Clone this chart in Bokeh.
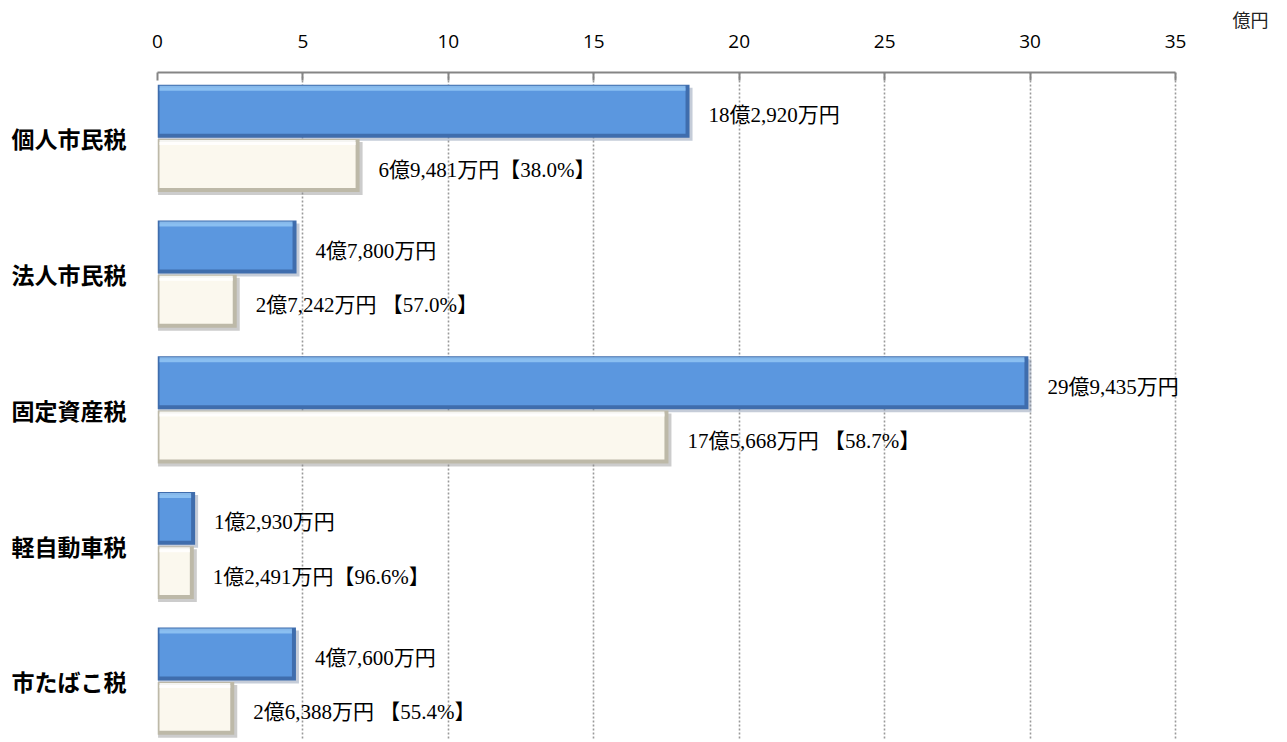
from bokeh.plotting import figure
from bokeh.models import Range1d, LinearAxis, FixedTicker, ColumnDataSource
from bokeh.core.properties import value
from bokeh.embed import file_html
from bokeh.resources import INLINE

categories = ["個人市民税", "法人市民税", "固定資産税", "軽自動車税", "市たばこ税"]
budget = [18.292, 4.78, 29.9435, 1.293, 4.76]          # 億円
actual = [6.9481, 2.7242, 17.5668, 1.2491, 2.6388]      # 億円
budget_labels = ["18億2,920万円", "4億7,800万円", "29億9,435万円", "1億2,930万円", "4億7,600万円"]
actual_labels = ["6億9,481万円【38.0%】", "2億7,242万円 【57.0%】", "17億5,668万円 【58.7%】",
                 "1億2,491万円【96.6%】", "2億6,388万円 【55.4%】"]
x_ticks = [0, 5, 10, 15, 20, 25, 30, 35]
unit_label = "億円"

LABEL_FONT = "Liberation Serif, Noto Sans CJK JP"
CJK = "Noto Sans CJK JP"

n = len(categories)
idx = list(range(n))
H = 0.39
px_y = 1 / 135.7
px_x = 35 / 1018
x_end = 35 + 100 * px_x   # room to the right of the 35 gridline for labels

p = figure(width=1280, height=740, output_backend="svg", toolbar_location=None,
           x_range=Range1d(0, x_end), y_range=Range1d(4.437, -0.486),
           x_axis_location=None, y_axis_location=None,
           min_border_left=157, min_border_right=5, min_border_top=72, min_border_bottom=0)
p.outline_line_color = None
p.background_fill_color = "white"
p.border_fill_color = "white"

# unit label (as title, right aligned)
p.title.text = unit_label
p.title.align = "right"
p.title.offset = 7
p.title.standoff = 0
p.title.text_font = CJK
p.title.text_font_size = "18px"
p.title.text_font_style = "normal"
p.title.text_color = "#222222"

# grid
p.xgrid.ticker = FixedTicker(ticks=x_ticks)
p.xgrid.grid_line_color = "#9a9a9a"
p.xgrid.grid_line_dash = "2 2"
p.xgrid.grid_line_width = 1.6
p.ygrid.grid_line_color = None

# top axis
ax = LinearAxis(ticker=FixedTicker(ticks=x_ticks), bounds=(0, 35))
ax.axis_line_color = "#858585"
ax.axis_line_width = 2
ax.major_tick_line_color = "#858585"
ax.major_tick_line_width = 2
ax.major_tick_in = 8
ax.major_tick_out = 0
ax.minor_tick_line_color = None
ax.major_label_standoff = 25
ax.major_label_text_font = "Open Sans"
ax.major_label_text_font_size = "19px"
ax.major_label_text_color = "black"
p.add_layout(ax, "above")

# left category axis
lax = LinearAxis(ticker=FixedTicker(ticks=idx),
                 major_label_overrides={i: c for i, c in zip(idx, categories)})
lax.axis_line_color = None
lax.major_tick_line_color = None
lax.minor_tick_line_color = None
lax.major_label_standoff = 25
lax.major_label_text_font = CJK
lax.major_label_text_font_style = "bold"
lax.major_label_text_font_size = "23px"
lax.major_label_text_color = "black"
p.add_layout(lax, "left")

def bevel_bars(vals, centers, edge, main, light, shadow):
    top = [c - H / 2 for c in centers]
    bot = [c + H / 2 for c in centers]
    p.quad(left=[0.02] * n, right=[v + 3 * px_x for v in vals],
           top=[t + 3 * px_y for t in top], bottom=[b + 3 * px_y for b in bot],
           fill_color=shadow, fill_alpha=0.45, line_color=None)
    p.quad(left=[0] * n, right=vals, top=top, bottom=bot,
           fill_color=edge, line_color=None)
    p.quad(left=[2 * px_x] * n, right=[max(v - 4 * px_x, 3 * px_x) for v in vals],
           top=[t + 3 * px_y for t in top], bottom=[b - 4 * px_y for b in bot],
           fill_color=main, line_color=None)
    p.quad(left=[2 * px_x] * n, right=[max(v - 4 * px_x, 3 * px_x) for v in vals],
           top=[t + 1 * px_y for t in top], bottom=[t + 6 * px_y for t in top],
           fill_color=light, fill_alpha=0.85, line_color=None)

blue_c = [i - H / 2 - 0.005 for i in idx]
cream_c = [i + H / 2 + 0.005 for i in idx]

bevel_bars(budget, blue_c, "#3F6DAD", "#5B97DF", "#93C5F5", "#7f8fa8")
bevel_bars(actual, cream_c, "#BDB9A8", "#FBF8EE", "#FFFFFF", "#8f8f8f")

src_b = ColumnDataSource(dict(x=budget, y=[c + 4 * px_y for c in blue_c], t=budget_labels))
src_a = ColumnDataSource(dict(x=actual, y=[c + 4 * px_y for c in cream_c], t=actual_labels))
for src in (src_b, src_a):
    p.text(x="x", y="y", text="t", source=src, x_offset=19,
           text_font=value(LABEL_FONT), text_font_size="21px", text_color="black",
           text_baseline="middle", text_align="left")

open("out.html", "w").write(file_html(p, INLINE))
